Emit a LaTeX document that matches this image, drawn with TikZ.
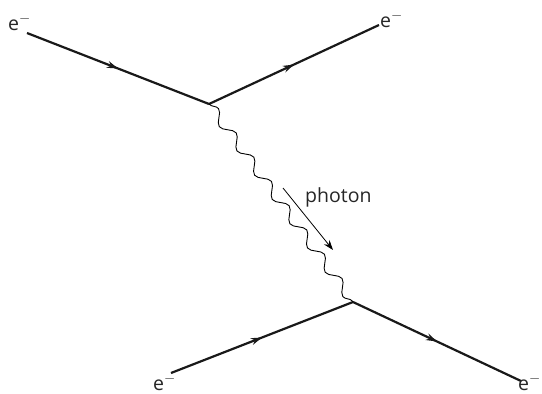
\documentclass[tikz,border=0pt]{standalone}
\usepackage{fontspec}
\setmainfont{Open Sans}
\usetikzlibrary{decorations.pathmorphing,decorations.markings,arrows.meta}
\tikzset{
  fermion/.style={line width=2.2pt, color=black!90,
    postaction={decorate},
    decoration={markings, mark=at position 0.5 with {\arrow{Stealth[length=11pt,width=7pt]}}}},
  photonline/.style={line width=0.9pt, decorate,
    decoration={snake, segment length=30pt, amplitude=5pt}},
  lbl/.style={font=\fontsize{19.5}{22}\selectfont, text=black!85, inner sep=0pt, anchor=base west},
}
\begin{document}
\begin{tikzpicture}[x=1pt,y=-1pt]
\useasboundingbox (0,0) rectangle (542,394);
\coordinate (a) at (27,33);
\coordinate (v1) at (209,104);
\coordinate (b) at (379,25);
\coordinate (c) at (171,373);
\coordinate (v2) at (353,302);
\coordinate (d) at (521,381);
\draw[fermion] (a) -- (v1);
\draw[fermion] (v1) -- (b);
\draw[fermion] (c) -- (v2);
\draw[fermion] (v2) -- (d);
\draw[photonline] (v1) -- (v2);
\coordinate (p1) at (283,188);
\coordinate (p2) at (333,250);
\draw[line width=0.8pt, -{Stealth[length=10pt,width=7pt]}] (p1) -- (p2);
\node[lbl] (la) at (8,30) {e$^{-}$};
\node[lbl] (lb) at (380,27) {e$^{-}$};
\node[lbl] (lc) at (153,390) {e$^{-}$};
\node[lbl] (ld) at (518,390) {e$^{-}$};
\node[lbl] (lp) at (305,202.5) {photon};
\end{tikzpicture}
\end{document}
